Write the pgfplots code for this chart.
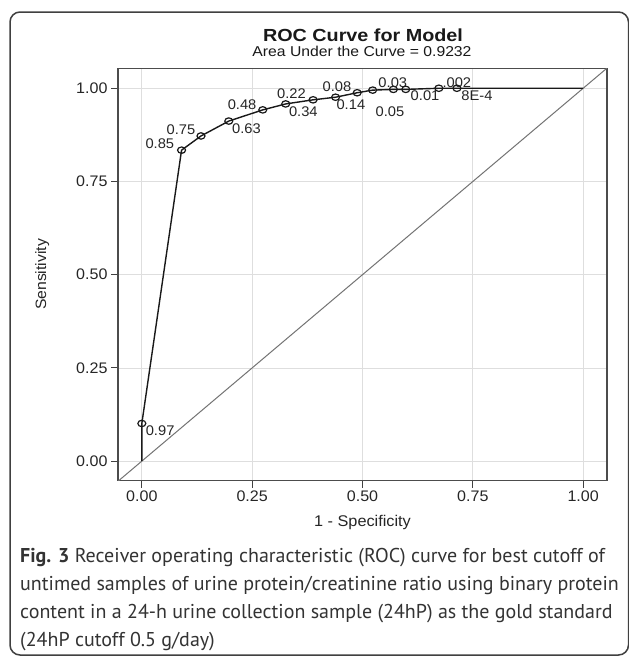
\documentclass[border=0pt]{standalone}
\usepackage{pgfplots}
\pgfplotsset{compat=1.18}
\usepackage{pgfplotstable}
\usepackage{fontspec}
\setmainfont{Liberation Sans}
\newfontfamily\capfont{PT Sans}
\newfontfamily\titlefont[FakeStretch=1.13]{Liberation Sans}
\newfontfamily\subfont[FakeStretch=1.1]{Liberation Sans}
\newfontfamily\labfont[FakeStretch=1.05]{Liberation Sans}

\pgfplotstableread{
x     y     lab   dx     dy
0.000 0.101 0.97  18.3   -7.4
0.090 0.834 0.85  -21.7  6.7
0.134 0.872 0.75  -20.0  6.0
0.197 0.912 0.63  17.7   -7.3
0.274 0.942 0.48  -20.7  5.7
0.326 0.958 0.34  17.6   -7.7
0.388 0.969 0.22  -21.6  6.4
0.439 0.976 0.14  15.3   -7.7
0.488 0.988 0.08  -20.3  6.1
0.523 0.995 0.05  17.3   -21.4
0.570 0.997 0.03  -0.6   6.6
0.598 0.997 0.01  19.3   -6.7
0.673 1.000 .002  18.0   5.6
0.714 1.000 8E-4  20.0   -7.7
}\roc

\begin{document}
\begin{tikzpicture}
\useasboundingbox (0pt,0pt) rectangle (629pt,-656pt);
\fill[white] (0pt,0pt) rectangle (629pt,-656pt);
\draw[line width=1.5pt, color=black!75, rounded corners=10pt]
  (10pt,-655pt) -- (10pt,-12pt) -- (628.5pt,-12pt) -- (628.5pt,-655pt) -- cycle;

\begin{axis}[
  scale only axis, width=489pt, height=412pt,
  at={(118pt,-480.5pt)}, anchor=south west,
  xmin=-0.054, xmax=1.054, ymin=-0.052, ymax=1.053,
  xtick={0,0.25,0.5,0.75,1}, ytick={0,0.25,0.5,0.75,1},
  xticklabels={0.00,0.25,0.50,0.75,1.00},
  yticklabels={0.00,0.25,0.50,0.75,1.00},
  xtick pos=lower, ytick pos=left,
  tick align=outside, major tick length=7pt,
  tick style={line width=1pt, color=black!75},
  grid=major, grid style={line width=0.8pt, color=black!13},
  axis line style={line width=1.4pt, color=black!70},
  tick label style={font=\labfont\fontsize{15.3}{18}\selectfont, color=black!85},
  xlabel={1 - Specificity}, ylabel={Sensitivity},
  xlabel style={at={(axis description cs:0.5,-0.103)}, anchor=center, font=\labfont\fontsize{15.5}{18}\selectfont, color=black!85},
  ylabel style={at={(axis description cs:-0.155,0.5)}, anchor=center, rotate=0, font=\labfont\fontsize{15}{18}\selectfont, color=black!85},
  clip=true,
]
\addplot[line width=1pt, color=black!55, forget plot] coordinates {(-0.06,-0.06) (1.06,1.06)};
\addplot[line width=1.4pt, color=black!90, forget plot] coordinates {
 (0,0) (0,0.101) (0.090,0.834) (0.134,0.872) (0.197,0.912) (0.274,0.942)
 (0.326,0.958) (0.388,0.969) (0.439,0.976) (0.488,0.988) (0.523,0.995)
 (0.570,0.997) (0.598,0.997) (0.673,1.000) (0.714,1.000) (1,1)};
\addplot[only marks, mark=o, mark size=4pt, mark options={line width=1.2pt, color=black!90, yscale=0.8},
  point meta=explicit symbolic, nodes near coords,
  visualization depends on={\thisrow{dx} \as \labdx},
  visualization depends on={\thisrow{dy} \as \labdy},
  every node near coord/.append style={anchor=center, inner sep=0pt, xshift=\labdx pt, yshift=\labdy pt,
     font=\labfont\fontsize{14}{15}\selectfont, color=black!85}]
  table[x=x, y=y, meta=lab] {\roc};
\end{axis}

\node[font=\titlefont\bfseries\fontsize{17.5}{20}\selectfont, color=black!90] at (363pt,-35pt) {ROC Curve for Model};
\node[font=\subfont\fontsize{14.3}{17}\selectfont, color=black!90] at (362pt,-51.5pt) {Area Under the Curve = 0.9232};

\node[anchor=north west, align=left, inner sep=0pt, font=\capfont\fontsize{20}{28}\selectfont, color=black!80] at (20pt,-548pt)
 {\textbf{Fig. 3} Receiver operating characteristic (ROC) curve for best cutoff of\\
  untimed samples of urine protein/creatinine ratio using binary protein\\
  content in a 24-h urine collection sample (24hP) as the gold standard\\
  (24hP cutoff 0.5 g/day)};
\end{tikzpicture}
\end{document}
